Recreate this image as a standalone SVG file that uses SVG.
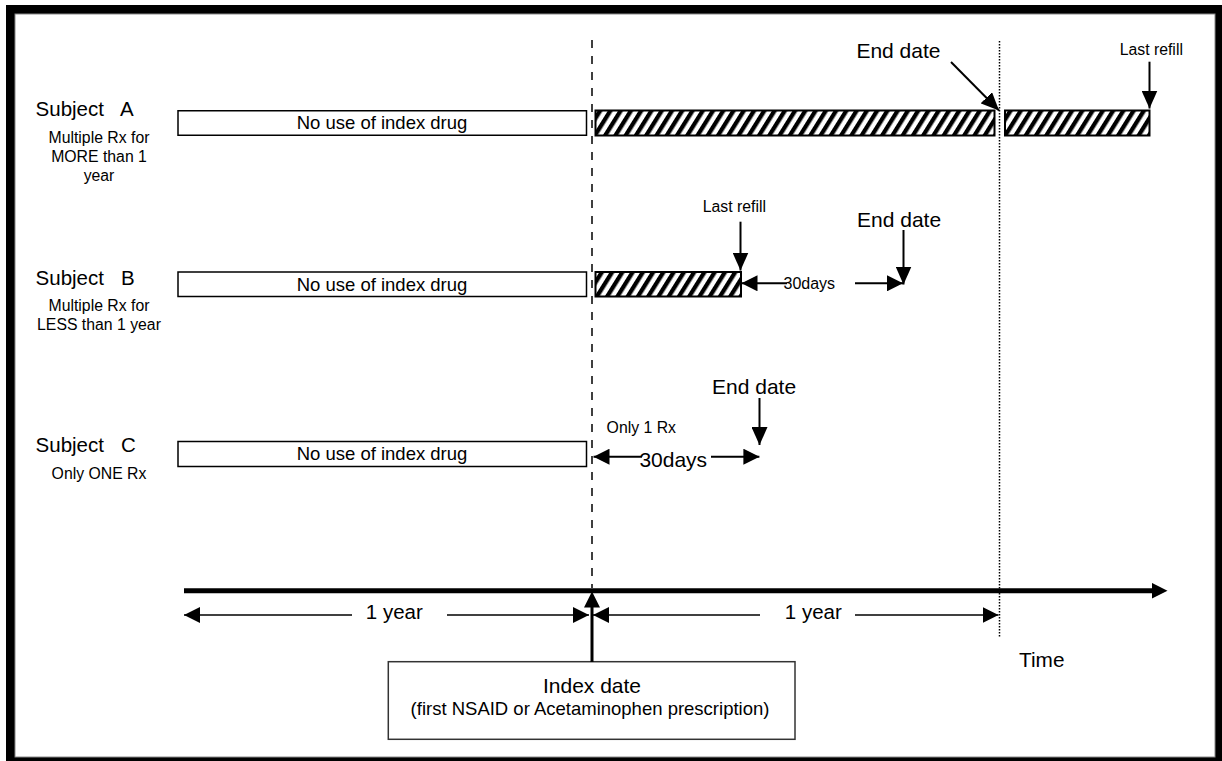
<svg xmlns="http://www.w3.org/2000/svg" width="1222" height="761" viewBox="0 0 1222 761">
<style>
text{font-family:"Liberation Sans",Arial,sans-serif;fill:#000}
.lbl{font-size:20.5px}
.sub{font-size:15.8px;text-anchor:middle}
.box{fill:#fff;stroke:#000;stroke-width:1.5}
.hatch{fill:url(#hp);stroke:#000;stroke-width:2}
.boxt{font-size:18.5px;text-anchor:middle}
.big{font-size:21px}
.sm{font-size:15.8px}
.ln{stroke:#000;stroke-width:1.6;fill:none}
.ln2{stroke:#000;stroke-width:2;fill:none}
</style>
<defs>
<pattern id="hp" patternUnits="userSpaceOnUse" width="8.7" height="20" patternTransform="rotate(32)">
<rect x="0" y="0" width="8.7" height="20" fill="#fff"/>
<rect x="0" y="0" width="4.3" height="20" fill="#000"/>
</pattern>
<marker id="ah" markerUnits="userSpaceOnUse" markerWidth="16" markerHeight="16" viewBox="0 0 16 16" refX="16" refY="8" orient="auto-start-reverse">
<path d="M0,0 L16,8 L0,16 z" fill="#000"/>
</marker>
<marker id="ahL" markerUnits="userSpaceOnUse" markerWidth="18" markerHeight="16" viewBox="0 0 18 16" refX="18" refY="8" orient="auto-start-reverse">
<path d="M0,0 L18,8 L0,16 z" fill="#000"/>
</marker>
<marker id="ahB" markerUnits="userSpaceOnUse" markerWidth="16" markerHeight="16" viewBox="0 0 16 16" refX="0.5" refY="8" orient="auto">
<path d="M0,0 L16,8 L0,16 z" fill="#000"/>
</marker>
</defs>
<!-- frame -->
<rect x="6" y="5" width="1216" height="756" fill="#000"/>
<rect x="15" y="14" width="1200" height="743" fill="#fff" stroke="#888" stroke-width="1"/>

<!-- reference lines -->
<g id="guides">
<line x1="592" y1="40" x2="592" y2="588" stroke="#000" stroke-width="1.5" stroke-dasharray="8 8"/>
<line x1="999.5" y1="41" x2="999.5" y2="638" stroke="#000" stroke-width="1.5" stroke-dasharray="1.5 1.5"/>
</g>

<g id="subjectA">
<text class="lbl" x="35.6" y="116" xml:space="preserve">Subject   A</text>
<text class="sub" x="99" y="143">Multiple Rx for</text>
<text class="sub" x="99" y="162">MORE than 1</text>
<text class="sub" x="99" y="181">year</text>
<rect class="box" x="178" y="110.75" width="408.5" height="24.5"/>
<text class="boxt" x="382" y="129.3">No use of index drug</text>
<rect class="hatch" x="595.5" y="110.5" width="399" height="25"/>
<rect class="hatch" x="1005" y="110.5" width="144.5" height="25"/>
<text class="big" x="856.4" y="58.3">End date</text>
<text class="sm" x="1119.7" y="55">Last refill</text>
</g>

<g id="subjectB">
<text class="lbl" x="35.6" y="285" xml:space="preserve">Subject   B</text>
<text class="sub" x="99" y="311">Multiple Rx for</text>
<text class="sub" x="99" y="330">LESS than 1 year</text>
<rect class="box" x="178" y="272" width="408.5" height="24.5"/>
<text class="boxt" x="382" y="290.6">No use of index drug</text>
<rect class="hatch" x="595.5" y="272" width="145.5" height="24.5"/>
<text class="sm" x="702.8" y="211.7">Last refill</text>
<text class="big" x="857" y="226.7">End date</text>
<text style="font-size:16px" x="783.5" y="288.5">30days</text>
</g>

<g id="subjectC">
<text class="lbl" x="35.6" y="451.7" xml:space="preserve">Subject   C</text>
<text class="sub" x="99" y="479">Only ONE Rx</text>
<rect class="box" x="178" y="441.5" width="408.5" height="25"/>
<text class="boxt" x="382" y="460.4">No use of index drug</text>
<text class="big" x="712" y="394">End date</text>
<text class="sm" x="606.6" y="433">Only 1 Rx</text>
<text style="font-size:21px" x="639.4" y="466.7">30days</text>
</g>

<g id="timeline">
<text class="lbl" x="365.8" y="619.3">1 year</text>
<text class="lbl" x="784.8" y="619.3">1 year</text>
<text style="font-size:20.8px" x="1019" y="666.7">Time</text>
</g>

<g id="indexDate">
<rect x="388.3" y="661.7" width="406.7" height="77.6" fill="#fff" stroke="#333" stroke-width="1.5"/>
<text class="big" x="592" y="693.3" text-anchor="middle">Index date</text>
<text x="590" y="715" text-anchor="middle" style="font-size:18.5px">(first NSAID or Acetaminophen prescription)</text>
</g>

<g id="connectors">
<!-- axis -->
<line x1="184" y1="590.7" x2="1152" y2="590.7" stroke="#000" stroke-width="5" marker-end="url(#ahB)"/>
<!-- index arrow -->
<line x1="592" y1="662" x2="592" y2="607" stroke="#000" stroke-width="3" marker-end="url(#ahB)"/>
<!-- 1 year left -->
<line class="ln" x1="184" y1="615" x2="352" y2="615" marker-start="url(#ah)"/>
<line class="ln" x1="447" y1="615" x2="589" y2="615" marker-end="url(#ah)"/>
<!-- 1 year right -->
<line class="ln" x1="593" y1="615" x2="760" y2="615" marker-start="url(#ah)"/>
<line class="ln" x1="855" y1="615" x2="998.5" y2="615" marker-end="url(#ah)"/>
<!-- A arrows -->
<line class="ln2" x1="951" y1="62" x2="999" y2="110.5" marker-end="url(#ahL)"/>
<line class="ln2" x1="1149.5" y1="61.7" x2="1149.5" y2="108.5" marker-end="url(#ahL)"/>
<!-- B arrows -->
<line class="ln2" x1="740.5" y1="221.7" x2="740.5" y2="270.5" marker-end="url(#ahL)"/>
<line class="ln2" x1="903.5" y1="230" x2="903.5" y2="284.5" marker-end="url(#ahL)"/>
<line class="ln2" x1="741.5" y1="283.3" x2="787" y2="283.3" marker-start="url(#ah)"/>
<line class="ln2" x1="855" y1="283.3" x2="903" y2="283.3" marker-end="url(#ah)"/>
<!-- C arrows -->
<line class="ln2" x1="759.5" y1="398" x2="759.5" y2="445" marker-end="url(#ahL)"/>
<line class="ln2" x1="593.5" y1="456.7" x2="642" y2="456.7" marker-start="url(#ah)"/>
<line class="ln2" x1="711" y1="456.7" x2="759.4" y2="456.7" marker-end="url(#ah)"/>
</g>
</svg>
